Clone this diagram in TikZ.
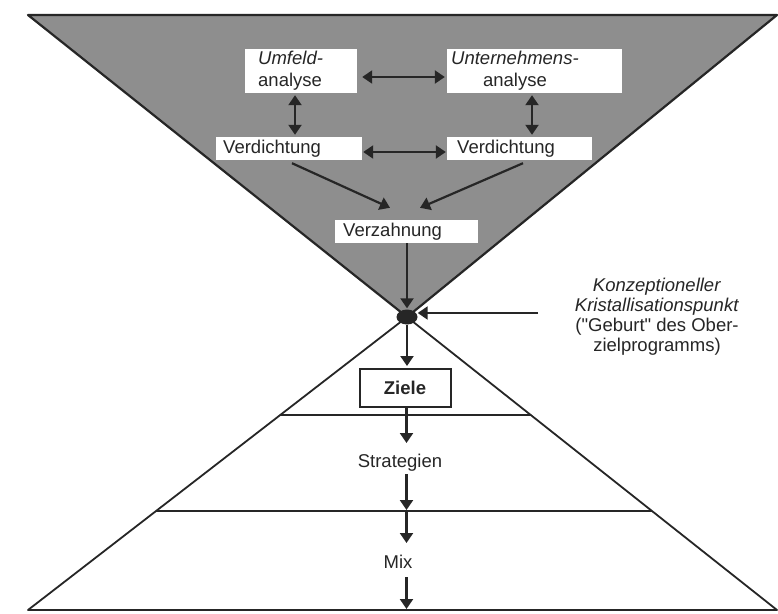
\documentclass[tikz,border=0pt]{standalone}
\usepackage{fontspec}
\setmainfont{Liberation Sans}[Ligatures=TeXOff]
\usetikzlibrary{arrows.meta,calc,shapes.geometric}
\definecolor{funnel}{RGB}{142,142,142}
\definecolor{ink}{RGB}{38,38,38}
\begin{document}
\begin{tikzpicture}[x=1pt,y=-1pt,
  every node/.style={font=\fontsize{18.5}{22}\selectfont, text=ink},
  box/.style={fill=white, draw=none, inner sep=0pt},
  txt/.style={inner sep=0pt, anchor=west},
  arr/.style={draw=ink, line width=2.2pt, -{Triangle[length=10pt,width=13pt]}},
  dbl/.style={draw=ink, line width=2.2pt, {Triangle[length=10pt,width=13pt]}-{Triangle[length=10pt,width=13pt]}},
  edge/.style={draw=ink, line width=1.8pt, line join=round}]

\useasboundingbox (0,0) rectangle (778,613);
\fill[white] (0,0) rectangle (778,613);

% corner points of the funnel and the pyramid
\coordinate (tl) at (28,15);
\coordinate (tr) at (777,15);
\coordinate (apex) at (407,317);
\coordinate (bl) at (28,610);
\coordinate (br) at (777,610);

% analysis funnel
\filldraw[fill=funnel, draw=ink, line width=2.2pt, line join=round] (tl) -- (tr) -- (apex) -- cycle;

% planning pyramid with its levels
\draw[edge] (apex) -- (bl) -- (br) -- cycle;
\draw[edge] ($(apex)!98/293!(bl)$) -- ($(apex)!98/293!(br)$);
\draw[edge] ($(apex)!194/293!(bl)$) -- ($(apex)!194/293!(br)$);

% white boxes in the funnel
\node[box, minimum width=112pt, minimum height=44pt] (umf) at (301,71) {};
\node[txt, align=left] (umft) at (258,71) {\textit{Umfeld-}\\analyse};
\node[box, minimum width=175pt, minimum height=44pt] (unt) at (534.5,71) {};
\node[txt, align=center] (untt) at (451,71) {\textit{Unternehmens-}\\analyse};
\node[box, minimum width=146pt, minimum height=23pt] (vl) at (289,148.5) {};
\node[txt] (vlt) at (223,148.5) {Verdichtung};
\node[box, minimum width=145pt, minimum height=23pt] (vr) at (519.5,148.5) {};
\node[txt] (vrt) at (457,148.5) {Verdichtung};
\node[box, minimum width=143pt, minimum height=23pt] (vz) at (406.5,231.5) {};
\node[txt] (vzt) at (343,231.5) {Verzahnung};

% arrows inside the funnel
\draw[dbl, shorten <=5pt, shorten >=2pt] ([yshift=-6pt]umf.east) -- ([yshift=-6pt]umf.east -| unt.west);
\draw[dbl, shorten <=1pt, shorten >=1pt] ([yshift=-3.5pt]vl.east) -- ([yshift=-3.5pt]vl.east -| vr.west);
\draw[dbl, shorten <=2pt, shorten >=2pt] ([xshift=-6pt]umf.south) -- ([xshift=-6pt]umf.south |- vl.north);
\draw[dbl, shorten <=2pt, shorten >=2pt] ([xshift=-2.5pt]unt.south) -- ([xshift=-2.5pt]unt.south |- vr.north);
\draw[arr] ([xshift=3pt,yshift=-3pt]vl.south) -- ([xshift=-16.5pt,yshift=12pt]vz.north);
\draw[arr] ([xshift=3.5pt,yshift=-3pt]vr.south) -- ([xshift=13.5pt,yshift=12pt]vz.north);

% crystallisation point
\node[ellipse, fill=ink, inner sep=0pt, minimum width=21pt, minimum height=15pt] (dot) at (apex) {};
\draw[arr, shorten >=1pt] ([xshift=0.5pt]vz.south) -- (dot.north);
\coordinate (kp) at (538,313);
\draw[arr] (kp) -- (kp -| dot.east);
\node[align=center, font=\fontsize{18.5}{20}\selectfont] (note) at (657,317)
  {\textit{Konzeptioneller}\\\textit{Kristallisationspunkt}\\("Geburt" des Ober-\\zielprogramms)};

% levels of the target programme
\node[draw=ink, line width=2pt, fill=white, inner sep=0pt, minimum width=91pt, minimum height=38pt] (zi) at (405,387.5) {\textbf{Ziele}};
\draw[arr, shorten >=1.5pt] (dot.south) -- (dot.south |- zi.north);

\node[inner sep=0pt] (st) at (400,463) {Strategien};
\node[inner sep=0pt] (mx) at (398,562) {Mix};

\coordinate (s1) at (406.5,443);
\coordinate (s2) at (406.5,474);
\coordinate (s3) at (406.5,510);
\coordinate (s4) at (406.5,512);
\coordinate (s5) at (406.5,543);
\coordinate (s6) at (406.5,577);
\coordinate (s7) at (406.5,609);
\draw[arr] (zi.south -| s1) -- (s1);
\draw[arr] (s2) -- (s3);
\draw[arr] (s4) -- (s5);
\draw[arr] (s6) -- (s7);
\end{tikzpicture}
\end{document}
